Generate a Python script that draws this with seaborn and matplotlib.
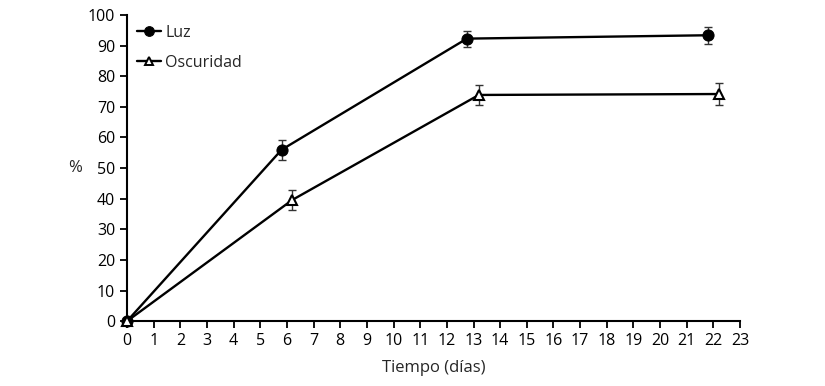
import numpy as np
import pandas as pd
import seaborn as sns
import matplotlib.pyplot as plt

sns.set_theme(style="ticks")
plt.rcParams['font.family'] = ['Open Sans', 'DejaVu Sans']

# data
luz_dias = [0, 5.8, 12.75, 21.8]
luz_pct = [0, 56, 92.3, 93.4]
luz_err = [0, 3.2, 2.6, 2.8]
osc_dias = [0, 6.2, 13.2, 22.2]
osc_pct = [0, 39.6, 73.9, 74.2]
osc_err = [0, 3.4, 3.4, 3.5]

df = pd.concat([
    pd.DataFrame({'dias': luz_dias, 'pct': luz_pct, 'err': luz_err, 'grupo': 'Luz'}),
    pd.DataFrame({'dias': osc_dias, 'pct': osc_pct, 'err': osc_err, 'grupo': 'Oscuridad'}),
])

fig = plt.figure(figsize=(8.25, 3.86), dpi=100)
ax = fig.add_axes([0.154, 0.168, 0.743, 0.793])

for g, d in df.groupby('grupo'):
    ax.errorbar(d['dias'], d['pct'], yerr=d['err'], fmt='none', ecolor='#333333',
                elinewidth=1, capsize=3, capthick=1, zorder=2)

sns.lineplot(data=df, x='dias', y='pct', style='grupo', markers={'Luz': 'o', 'Oscuridad': '^'},
             dashes=False, color='black', linewidth=1.7, markersize=8, ax=ax, zorder=3)
for line in ax.lines:
    line.set_clip_on(False)
    if line.get_marker() == '^':
        line.set_markerfacecolor('white')
        line.set_markeredgecolor('black')
        line.set_markeredgewidth(1.5)
        line.set_markersize(7)
    elif line.get_marker() == 'o':
        line.set_markerfacecolor('black')
        line.set_markeredgecolor('black')

ax.set_xlim(0, 23)
ax.set_ylim(0, 100)
ax.set_xticks(range(0, 24))
ax.set_yticks(range(0, 101, 10))
ax.set_xlabel('Tiempo (días)', fontsize=12, labelpad=8)
ax.set_ylabel('%', fontsize=12, rotation=0, va='center', ha='center')
ax.yaxis.set_label_coords(-0.085, 0.5)
ax.tick_params(labelsize=11.5, width=1.3, length=5, color='black', labelcolor='black')
for s in ['left', 'bottom']:
    ax.spines[s].set_linewidth(1.5)
    ax.spines[s].set_color('black')
sns.despine(ax=ax)

leg = ax.legend(loc='upper left', frameon=False, fontsize=11.5, handlelength=1.5,
                borderaxespad=0.2, labelspacing=0.9, handletextpad=0.3,
                bbox_to_anchor=(0.0, 1.0))
for h in leg.legend_handles:
    if h.get_marker() == '^':
        h.set_markerfacecolor('white')
        h.set_markeredgecolor('black')
        h.set_markeredgewidth(1.4)
        h.set_markersize(6)
    else:
        h.set_markersize(7)
    h.set_color('black')

ax.patch.set_alpha(0)
fig.savefig('out.png', dpi=100)
